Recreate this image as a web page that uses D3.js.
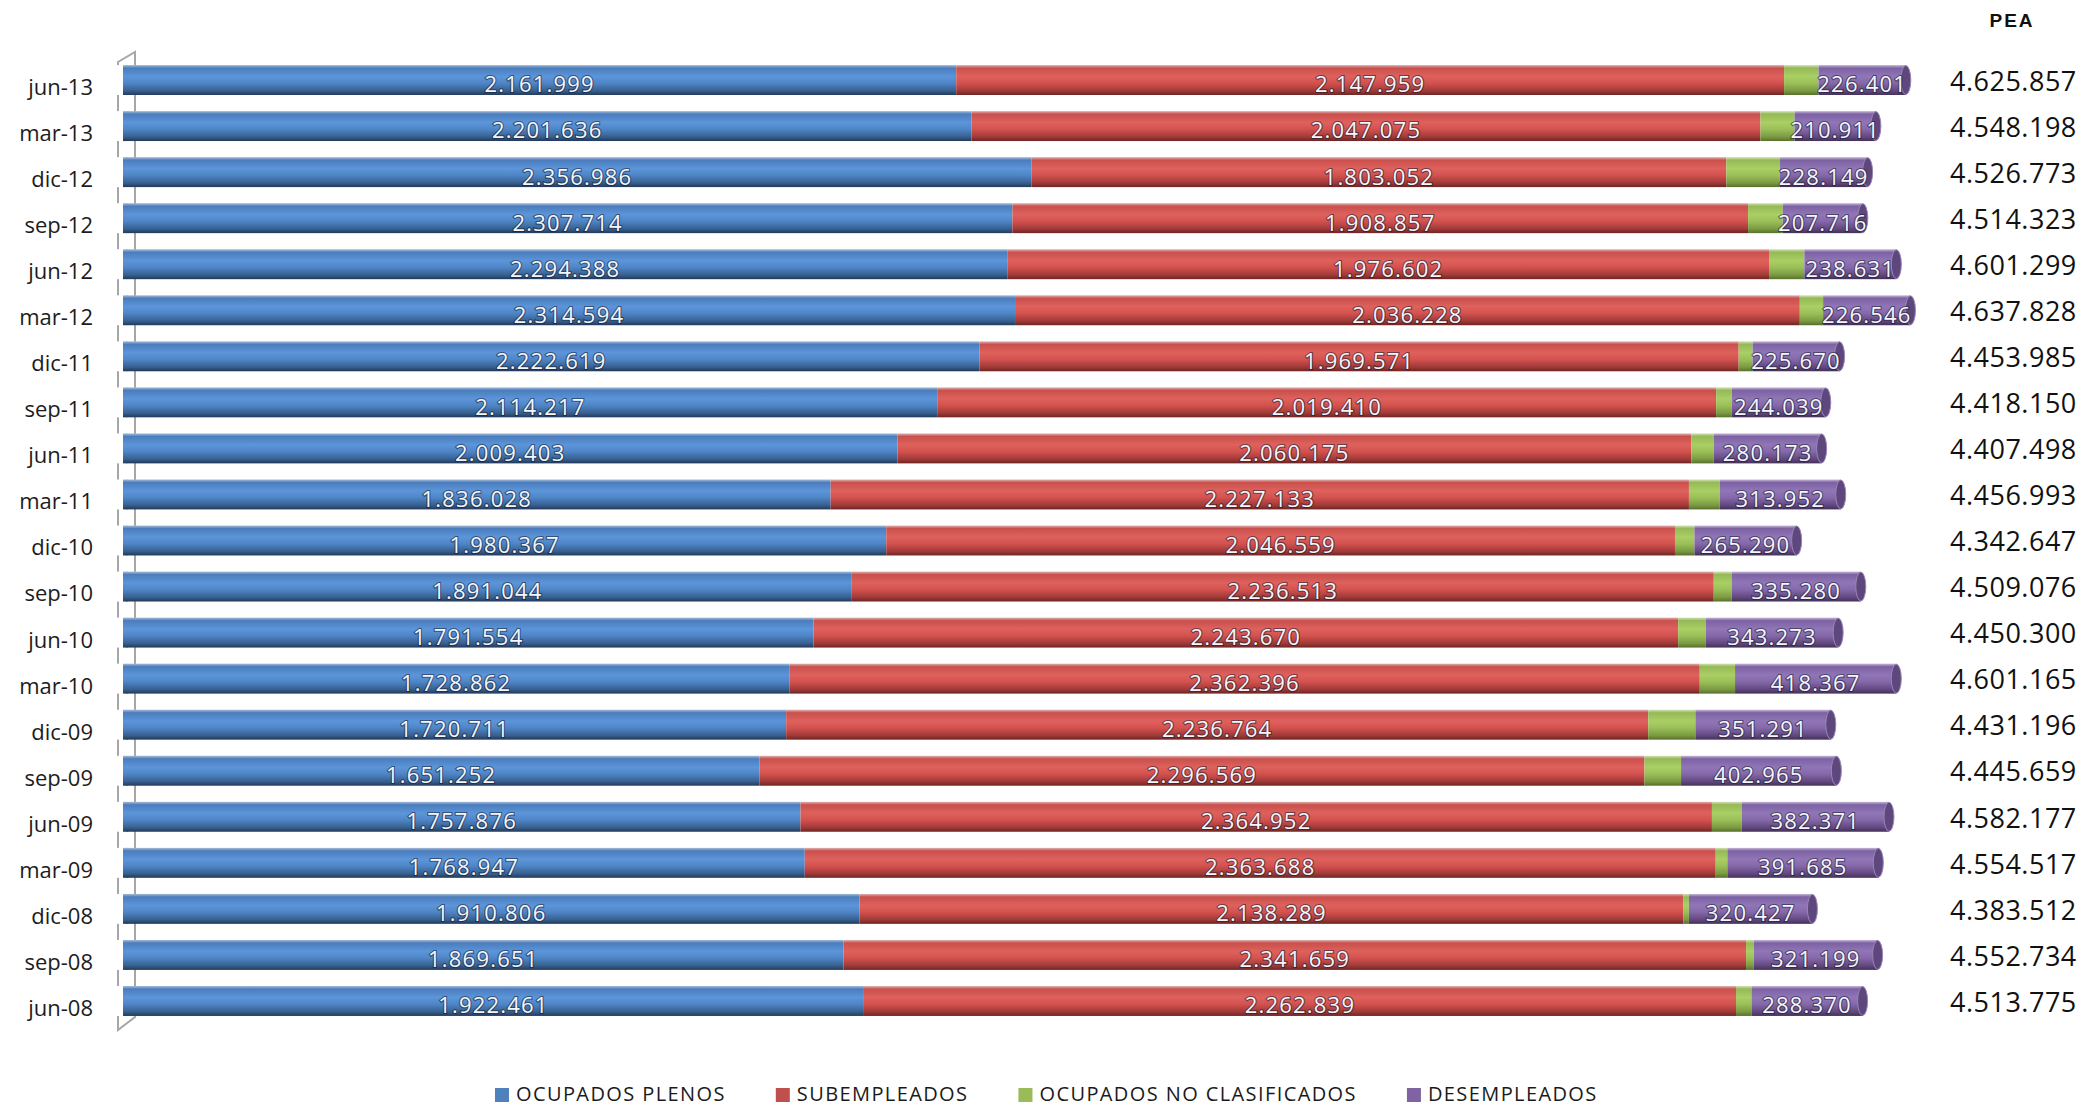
<!DOCTYPE html>
<html>
<head>
<meta charset="utf-8">
<script src="https://cdn.jsdelivr.net/npm/d3@7/dist/d3.min.js"></script>
<style>
  body { margin: 0; background: #fff; }
  text { font-family: "Open Sans", "Noto Sans", sans-serif; }
</style>
</head>
<body>
<div id="chart-area"></div>
<script>
// categories, top to bottom
var categories = ["jun-13", "mar-13", "dic-12", "sep-12", "jun-12", "mar-12", "dic-11",
	"sep-11", "jun-11", "mar-11", "dic-10", "sep-10", "jun-10", "mar-10", "dic-09",
	"sep-09", "jun-09", "mar-09", "dic-08", "sep-08", "jun-08"];

var ocupadosPlenos = [2161999, 2201636, 2356986, 2307714, 2294388, 2314594, 2222619,
	2114217, 2009403, 1836028, 1980367, 1891044, 1791554, 1728862, 1720711,
	1651252, 1757876, 1768947, 1910806, 1869651, 1922461];
var subempleados = [2147959, 2047075, 1803052, 1908857, 1976602, 2036228, 1969571,
	2019410, 2060175, 2227133, 2046559, 2236513, 2243670, 2362396, 2236764,
	2296569, 2364952, 2363688, 2138289, 2341659, 2262839];
// green segment has no label in the picture: read as PEA minus the labelled parts
var noClasificados = [89498, 88576, 138586, 90036, 91678, 60460, 36125,
	40484, 57747, 79880, 50431, 46239, 71803, 91540, 122430,
	94873, 76978, 30197, 13990, 20225, 40105];
var desempleados = [226401, 210911, 228149, 207716, 238631, 226546, 225670,
	244039, 280173, 313952, 265290, 335280, 343273, 418367, 351291,
	402965, 382371, 391685, 320427, 321199, 288370];
var pea = [4625857, 4548198, 4526773, 4514323, 4601299, 4637828, 4453985,
	4418150, 4407498, 4456993, 4342647, 4509076, 4450300, 4601165, 4431196,
	4445659, 4582177, 4554517, 4383512, 4552734, 4513775];

var seriesKeys = ["plenos", "sub", "nocl", "des"];
var seriesNames = ["OCUPADOS PLENOS", "SUBEMPLEADOS", "OCUPADOS NO CLASIFICADOS", "DESEMPLEADOS"];

var W = 2097, H = 1107;

var rows = categories.map(function(c, i) {
	return { cat: c, plenos: ocupadosPlenos[i], sub: subempleados[i],
		nocl: noClasificados[i], des: desempleados[i], pea: pea[i] };
});

var svg = d3.select("#chart-area")
	.append("svg")
		.attr("width", W)
		.attr("height", H);

// Scales
var x = d3.scaleLinear()
	.domain([0, 5000000])
	.range([123, 2050]);
var y = d3.scaleBand()
	.domain(categories)
	.range([57, 1024])
	.paddingInner(0.35)
	.paddingOuter(0.175);
var bh = y.bandwidth();

// cylinder-ish shading
var shades = {
	plenos: ["#a9bcd6", "#4a7dbd", "#5c95d9", "#4f86c8", "#37608f", "#22395a"],
	sub:    ["#dcb4b2", "#c9504d", "#de615c", "#d4524f", "#a03a38", "#6e2523"],
	nocl:   ["#d2e0b6", "#95b956", "#aacf64", "#9cc059", "#7b9a42", "#56702b"],
	des:    ["#c6b8d8", "#7d62a3", "#9176b7", "#8569aa", "#62487f", "#44305a"]
};
var legendColors = { plenos: "#4F81BD", sub: "#C0504D", nocl: "#9BBB59", des: "#8064A2" };
var offsets = [0, 0.1, 0.38, 0.6, 0.86, 1];

var defs = svg.append("defs");
seriesKeys.forEach(function(k) {
	var gr = defs.append("linearGradient")
		.attr("id", "grad-" + k)
		.attr("x1", 0).attr("y1", 0).attr("x2", 0).attr("y2", 1);
	shades[k].forEach(function(c, j) {
		gr.append("stop").attr("offset", offsets[j]).attr("stop-color", c);
	});
});

// 3D floor (the thin wall behind the bars)
var yTop = y.range()[0], yBot = y.range()[1];
var wall = svg.append("g")
	.attr("fill", "none")
	.attr("stroke", "#a6a6a6")
	.attr("stroke-width", 2);
wall.append("path")
	.attr("d", "M118," + (yTop + 5) + "L135," + (yTop - 5) + "L135," + (yBot - 7) + "L118," + (yBot + 6) + "Z");

// Stacks
var stack = d3.stack().keys(seriesKeys);
var stacked = stack(rows);

var layer = svg.selectAll(".layer")
	.data(stacked)
	.enter().append("g")
		.attr("class", "layer")
		.attr("fill", function(d) { return "url(#grad-" + d.key + ")"; });

layer.selectAll("rect")
	.data(function(d) { return d; })
	.enter().append("rect")
		.attr("x", function(d) { return x(d[0]); })
		.attr("y", function(d) { return y(d.data.cat); })
		.attr("width", function(d) { return x(d[1]) - x(d[0]); })
		.attr("height", bh);

// rounded left end
svg.append("g").selectAll("rect")
	.data(rows)
	.enter().append("rect")
		.attr("x", 0)
		.attr("width", x(0))
		.attr("y", function(d) { return y(d.cat); })
		.attr("height", bh)
		.attr("fill", "#fff");
svg.append("g").selectAll("ellipse")
	.data(rows)
	.enter().append("ellipse")
		.attr("cx", x(0) + 4)
		.attr("cy", function(d) { return y(d.cat) + bh / 2; })
		.attr("rx", 4)
		.attr("ry", bh / 2)
		.attr("fill", "url(#grad-plenos)");

// right end cap
svg.append("g").selectAll("ellipse")
	.data(rows)
	.enter().append("ellipse")
		.attr("cx", function(d) { return x(d.plenos + d.sub + d.nocl + d.des); })
		.attr("cy", function(d) { return y(d.cat) + bh / 2; })
		.attr("rx", 5)
		.attr("ry", bh / 2 - 0.5)
		.attr("fill", "#5d477c")
		.attr("stroke", "#9a86b6")
		.attr("stroke-width", 1);

// data labels (green not labelled)
var labelled = stacked.filter(function(s) { return s.key !== "nocl"; });
svg.append("g").selectAll("g")
	.data(labelled)
	.enter().append("g")
	.selectAll("text")
	.data(function(d) { return d; })
	.enter().append("text")
		.attr("x", function(d) { return (x(d[0]) + x(d[1])) / 2; })
		.attr("y", function(d) { return y(d.data.cat) + bh / 2 + 4.5; })
		.attr("dy", "0.36em")
		.attr("text-anchor", "middle")
		.attr("font-size", "22px")
		.attr("letter-spacing", "1.2px")
		.attr("fill", "#f3f6fb")
		.attr("stroke", "rgba(20,25,45,0.55)")
		.attr("stroke-width", 2.2)
		.attr("paint-order", "stroke")
		.text(function(d) { return d3.format(",")(d[1] - d[0]).replace(/,/g, "."); });

// category labels
svg.append("g").selectAll("text")
	.data(categories)
	.enter().append("text")
		.attr("x", 93)
		.attr("y", function(d) { return y(d) + bh / 2 + 7; })
		.attr("dy", "0.36em")
		.attr("text-anchor", "end")
		.attr("font-size", "22px")
		.attr("fill", "#1c1c1c")
		.text(function(d) { return d; });

// PEA column
svg.append("text")
	.attr("x", 2012)
	.attr("y", 27)
	.attr("text-anchor", "middle")
	.style("font-family", "'Liberation Sans', Arial, sans-serif")
	.attr("font-weight", "bold")
	.attr("font-size", "19px")
	.attr("letter-spacing", "2px")
	.attr("fill", "#111")
	.text("PEA");

svg.append("g").selectAll("text")
	.data(rows)
	.enter().append("text")
		.attr("x", 1950)
		.attr("y", function(d) { return y(d.cat) + bh / 2 + 1; })
		.attr("dy", "0.36em")
		.attr("font-size", "27px")
		.attr("letter-spacing", "0.5px")
		.attr("fill", "#111")
		.text(function(d) { return d3.format(",")(d.pea).replace(/,/g, "."); });

// Legend
var legend = svg.append("g");
var lx = 495;
seriesKeys.forEach(function(k, i) {
	legend.append("rect")
		.attr("x", lx)
		.attr("y", 1088)
		.attr("width", 14)
		.attr("height", 14)
		.attr("fill", legendColors[k]);
	var t = legend.append("text")
		.attr("x", lx + 21)
		.attr("y", 1101)
		.attr("font-size", "20px")
		.attr("letter-spacing", "1.4px")
		.attr("fill", "#1a1a1a")
		.text(seriesNames[i]);
	lx += 21 + t.node().getComputedTextLength() + 50;
});
</script>
</body>
</html>
